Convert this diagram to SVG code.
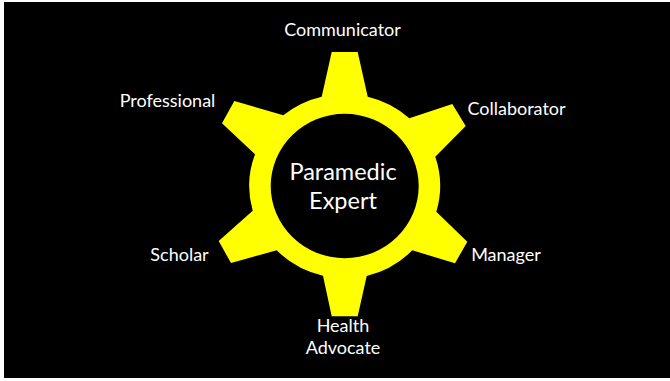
<svg xmlns="http://www.w3.org/2000/svg" width="670" height="381" viewBox="0 0 670 381">
<style>
text{font-family:Lato,"Open Sans",sans-serif;fill:#fff;text-anchor:middle}
.l{font-size:18px}
.c{font-size:23.5px}
</style>
<rect width="670" height="381" fill="#fff"/>
<rect x="4" y="2" width="666" height="376" fill="#000"/>
<g id="gear">
<path fill="#ff0" fill-rule="evenodd" d="M331.7 52H357.7L367.7 96.7A94.7 92 0 0 1 409.3 118.3L452.3 104L465.7 126L435.3 156.7A94.7 92 0 0 1 436.3 211.7L467.3 241.7L455 263.3L412.3 250.3A94.7 92 0 0 1 366.7 276L357.7 316.3H331.7L323 275.7A94.7 92 0 0 1 276.7 250.3L231 263L218.7 241L252.7 210.7A94.7 92 0 0 1 255 154.3L222 123.3L234.3 101L283.3 115.3A94.7 92 0 0 1 321.7 96.7Z M270.7 186A74 72.2 0 0 0 418.7 186A74 72.2 0 0 0 270.7 186Z"/>
</g>
<g id="center"><text class="c" x="343" y="180">Paramedic</text><text class="c" x="343" y="209">Expert</text></g>
<g id="communicator"><text class="l" x="342.500" y="36">Communicator</text></g>
<g id="collaborator"><text class="l" x="516.500" y="115">Collaborator</text></g>
<g id="manager"><text class="l" x="506" y="261">Manager</text></g>
<g id="health-advocate"><text class="l" x="343" y="332">Health</text><text class="l" x="343" y="354">Advocate</text></g>
<g id="scholar"><text class="l" x="179.500" y="261">Scholar</text></g>
<g id="professional"><text class="l" x="167.500" y="107">Professional</text></g>
</svg>
